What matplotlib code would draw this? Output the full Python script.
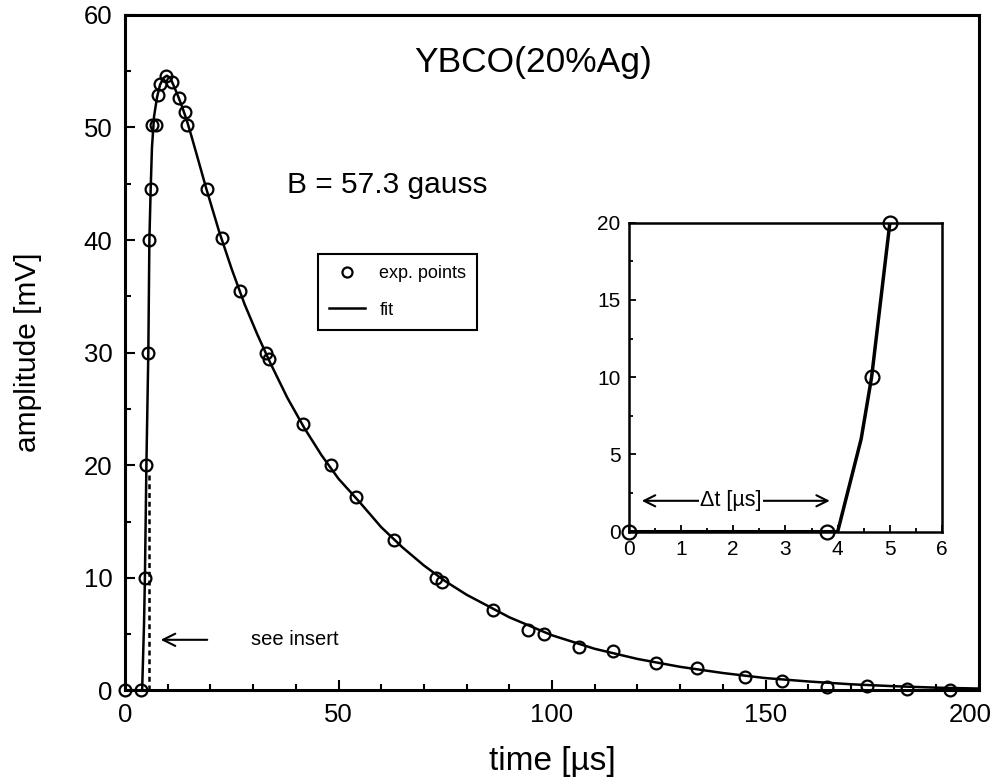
import matplotlib
matplotlib.use("Agg")
import matplotlib.pyplot as plt
from matplotlib.ticker import MultipleLocator

plt.rcParams['font.family'] = ['Liberation Sans', 'DejaVu Sans']

# measured points (time in us, amplitude in mV)
exp_t = [0, 3.8, 4.65, 5.0, 5.45, 5.7, 6.0, 6.2, 7.2, 7.8, 8.2, 9.7, 11.1, 12.6,
         14.0, 14.6, 19.1, 22.8, 27.0, 32.9, 33.8, 41.6, 48.2, 54.2, 63.0, 72.9,
         74.3, 86.2, 94.3, 98.2, 106.3, 114.2, 124.4, 133.9, 145.2, 153.8, 164.5,
         173.7, 183.1, 193.2]
exp_amp = [0, 0, 10, 20, 30, 40, 44.5, 50.2, 50.2, 52.9, 53.9, 54.6, 54.0, 52.6,
           51.4, 50.2, 44.5, 40.2, 35.5, 30.0, 29.4, 23.7, 20.0, 17.2, 13.4, 10.0,
           9.6, 7.15, 5.4, 5.0, 3.9, 3.5, 2.4, 2.0, 1.2, 0.8, 0.35,
           0.43, 0.13, 0.0]

# fit curve
fit_t = [0, 4.0, 4.45, 4.65, 5.0, 5.45, 5.7, 6.0, 6.3, 6.8, 7.5, 8.2, 9.0, 9.8,
         10.6, 11.4, 12.4, 13.4, 14.4, 15.5, 17, 19, 22, 25, 28, 31, 34, 38, 42,
         46, 50, 55, 60, 65, 70, 75, 80, 90, 100, 110, 120, 130, 140, 150, 160,
         170, 180, 190, 200]
fit_amp = [0, 0, 6, 10, 20, 30, 40, 44.5, 48.2, 51.0, 52.7, 53.8, 54.4, 54.6,
           54.4, 53.7, 52.8, 51.8, 50.7, 49.3, 47.3, 44.6, 40.8, 37.4, 34.3, 31.6,
           29.1, 26.0, 23.3, 20.9, 18.8, 16.7, 14.5, 12.7, 11.1, 9.7, 8.5, 6.5,
           4.9, 3.7, 2.8, 2.1, 1.55, 1.1, 0.8, 0.55, 0.38, 0.25, 0.17]

x_ticks = [0, 50, 100, 150, 200]
x_ticklabels = ['0', '50', '100', '150', '200']

# insert (zoom on the onset)
ins_t = [0, 3.8, 4.65, 5.0]
ins_amp = [0, 0, 10, 20]
ins_fit_t = [0, 4.0, 4.45, 4.65, 5.0]
ins_fit_amp = [0, 0, 6, 10, 20]

fig = plt.figure(figsize=(9.98, 7.84), dpi=100)
ax = fig.add_axes([0.1253, 0.1193, 0.8557, 0.8617])

ax.plot(fit_t, fit_amp, color='black', lw=1.8, label='fit')
ax.plot(exp_t, exp_amp, 'o', ms=8.5, mfc='none', mec='black', mew=1.6,
        clip_on=False, label='exp. points')
ax.plot([5.5, 5.5], [0, 19.5], ls=(0, (2, 1.5)), color='black', lw=1.8)
ax.annotate('', xy=(7.7, 4.5), xytext=(19.9, 4.5),
            arrowprops=dict(arrowstyle='->', lw=1.5, color='black',
                            mutation_scale=22))
ax.text(29.6, 4.5, 'see insert', fontsize=14.5, va='center', ha='left')

ax.set_xlim(0, 200)
ax.set_ylim(0, 60)
# last label is drawn by hand, shifted a bit so it stays in the picture
ax.set_xticks(x_ticks, x_ticklabels[:-1] + [''])
ax.annotate(x_ticklabels[-1], xy=(x_ticks[-1], 0), xytext=(-6, -9),
            textcoords='offset points', ha='center', va='top', fontsize=18.5,
            annotation_clip=False)
ax.xaxis.set_minor_locator(MultipleLocator(10))
ax.yaxis.set_major_locator(MultipleLocator(10))
ax.yaxis.set_minor_locator(MultipleLocator(5))
ax.tick_params(which='both', direction='in', width=1.5, labelsize=18.5, pad=9)
ax.tick_params(which='major', length=7)
ax.tick_params(which='minor', length=4)
for s in ax.spines.values():
    s.set_linewidth(2.2)

ax.set_xlabel('time [µs]', fontsize=24, labelpad=14)
ax.set_ylabel('amplitude [mV]', fontsize=21.5, labelpad=30)

ax.text(0.478, 0.930, 'YBCO(20%Ag)', transform=ax.transAxes, fontsize=25.5,
        ha='center', va='center')
ax.text(0.307, 0.748, 'B = 57.3 gauss', transform=ax.transAxes, fontsize=21.5,
        ha='center', va='center')

h, l = ax.get_legend_handles_labels()
leg = ax.legend(h[::-1], l[::-1], loc='upper left', bbox_to_anchor=(0.226, 0.646),
                borderaxespad=0, fontsize=13, fancybox=False, framealpha=1,
                edgecolor='black', handlelength=2.0, labelspacing=1.1,
                markerscale=0.85, borderpad=0.6)
leg.get_frame().set_linewidth(1.5)

# insert
ax_in = fig.add_axes([0.630, 0.3218, 0.314, 0.3942])
ax_in.plot(ins_fit_t, ins_fit_amp, color='black', lw=2.5)
ax_in.plot(ins_t, ins_amp, 'o', ms=10, mfc='none', mec='black', mew=1.6,
           clip_on=False)
ax_in.annotate('', xy=(0.25, 2.0), xytext=(3.85, 2.0),
               arrowprops=dict(arrowstyle='<->', lw=1.5, color='black',
                               mutation_scale=20, shrinkA=0, shrinkB=0))
ax_in.text(1.95, 2.05, 'Δt [µs]', fontsize=15.5, ha='center', va='center',
           bbox=dict(facecolor='white', edgecolor='none', pad=1))
ax_in.set_xlim(0, 6)
ax_in.set_ylim(0, 20)
ax_in.xaxis.set_major_locator(MultipleLocator(1))
ax_in.xaxis.set_minor_locator(MultipleLocator(0.5))
ax_in.yaxis.set_major_locator(MultipleLocator(5))
ax_in.yaxis.set_minor_locator(MultipleLocator(2.5))
ax_in.tick_params(which='both', direction='in', width=1.3, labelsize=15, pad=6)
ax_in.tick_params(which='major', length=5)
ax_in.tick_params(which='minor', length=3)
for s in ax_in.spines.values():
    s.set_linewidth(1.8)

fig.savefig('out.png', dpi=100)
